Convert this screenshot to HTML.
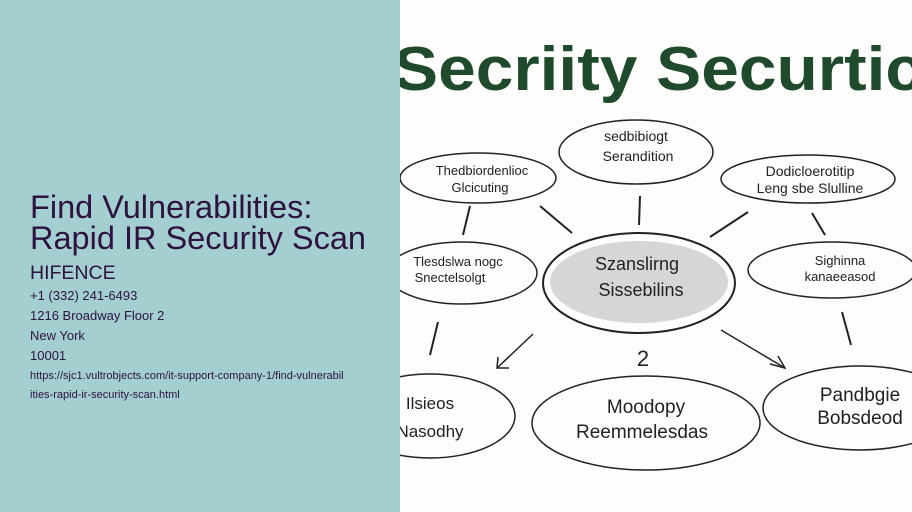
<!DOCTYPE html>
<html><head><style>
html,body{margin:0;padding:0;width:912px;height:512px;overflow:hidden;background:#fff}
#l{position:absolute;left:0;top:0;width:400px;height:512px;background:#a3cfd1;font-family:"Liberation Sans",sans-serif;color:#2e1240}
.t{position:absolute;left:30px;top:192px;font-size:32.5px;line-height:31px;white-space:nowrap}
.h{position:absolute;left:30px;top:262px;font-size:19.5px}
.s{position:absolute;left:30px;font-size:13px}
.u{position:absolute;left:30px;font-size:11px}
svg{position:absolute;left:400px;top:0}
</style></head><body>
<div id="l">
<div class="t">Find Vulnerabilities:<br>Rapid IR Security Scan</div>
<div class="h">HIFENCE</div>
<div class="s" style="top:288px">+1 (332) 241-6493</div>
<div class="s" style="top:308px">1216 Broadway Floor 2</div>
<div class="s" style="top:328px">New York</div>
<div class="s" style="top:348px">10001</div>
<div class="u" style="top:370px">https://sjc1.vultrobjects.com/it-support-company-1/find-vulnerabil</div>
<div class="u" style="top:389px">ities-rapid-ir-security-scan.html</div>
</div>
<svg width="512" height="512" viewBox="400 0 512 512" font-family="Liberation Sans,sans-serif">
<rect x="400" y="0" width="512" height="512" fill="#fdfdfc"/>
<text x="393" y="90" font-size="62" font-weight="bold" fill="#1f4a2c" textLength="530" lengthAdjust="spacingAndGlyphs">Secriity Securtic</text>
<g fill="none" stroke="#222" stroke-width="1.5">
<ellipse cx="478" cy="178" rx="78" ry="25"/>
<ellipse cx="636" cy="152" rx="77" ry="32"/>
<ellipse cx="808" cy="179" rx="87" ry="24"/>
<ellipse cx="462" cy="273" rx="75" ry="31"/>
<ellipse cx="639" cy="283" rx="96" ry="50" stroke-width="2"/>
<ellipse cx="832" cy="270" rx="84" ry="28"/>
<ellipse cx="430" cy="416" rx="85" ry="42"/>
<ellipse cx="646" cy="423" rx="114" ry="47"/>
<ellipse cx="860" cy="408" rx="97" ry="42"/>
<line x1="540" y1="206" x2="572" y2="233" stroke-width="2"/>
<line x1="640" y1="196" x2="639" y2="225" stroke-width="2"/>
<line x1="710" y1="237" x2="748" y2="212" stroke-width="2"/>
<line x1="812" y1="213" x2="825" y2="235" stroke-width="2"/>
<line x1="470" y1="206" x2="463" y2="235" stroke-width="2"/>
<line x1="438" y1="322" x2="430" y2="355" stroke-width="2"/>
<line x1="533" y1="334" x2="497" y2="368"/>
<polyline points="498,357 497,368 509,368"/>
<line x1="721" y1="330" x2="785" y2="368"/>
<polyline points="770,364 785,368 778,356"/>
<line x1="842" y1="312" x2="851" y2="345" stroke-width="2"/>
</g>
<ellipse cx="639" cy="282" rx="89" ry="41" fill="#d6d6d6"/>
<g fill="#222" text-anchor="middle">
<text x="643" y="366" font-size="22">2</text>
<text x="482" y="175" font-size="13">Thedbiordenlioc</text>
<text x="480" y="192" font-size="13">Glcicuting</text>
<text x="636" y="141" font-size="14">sedbibiogt</text>
<text x="638" y="161" font-size="14">Serandition</text>
<text x="810" y="176" font-size="14">Dodicloerotitip</text>
<text x="810" y="193" font-size="14">Leng sbe Slulline</text>
<text x="458" y="266" font-size="13">Tlesdslwa nogc</text>
<text x="450" y="282" font-size="13">Snectelsolgt</text>
<text x="637" y="270" font-size="18">Szanslirng</text>
<text x="641" y="296" font-size="18">Sissebilins</text>
<text x="840" y="265" font-size="13">Sighinna</text>
<text x="840" y="281" font-size="13">kanaeeasod</text>
<text x="430" y="409" font-size="17">Ilsieos</text>
<text x="430" y="437" font-size="17">Nasodhy</text>
<text x="646" y="413" font-size="19">Moodopy</text>
<text x="642" y="438" font-size="19">Reemmelesdas</text>
<text x="860" y="401" font-size="19">Pandbgie</text>
<text x="860" y="424" font-size="19">Bobsdeod</text>
</g>
</svg>
</body></html>
